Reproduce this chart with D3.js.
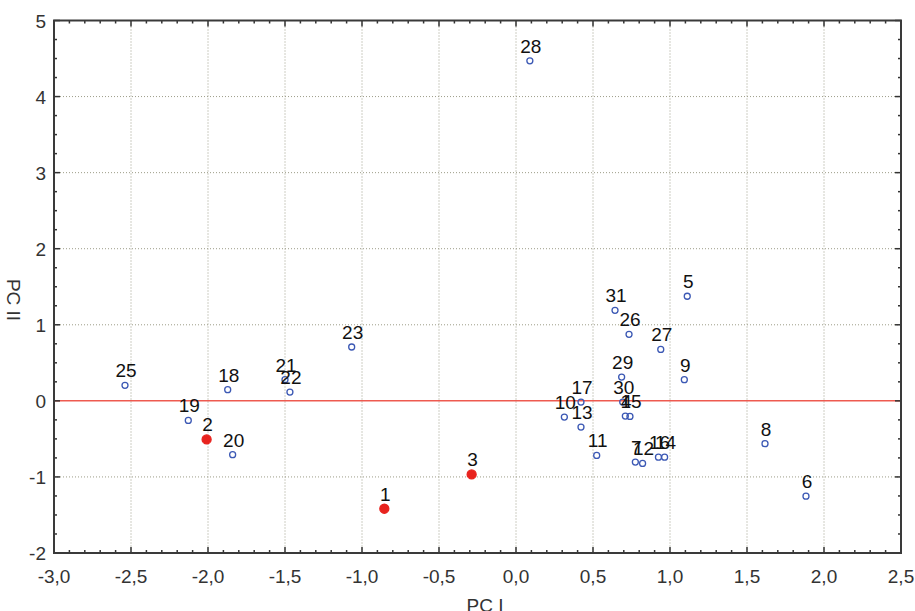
<!DOCTYPE html>
<html>
<head>
<meta charset="utf-8">
<title>PCA scores</title>
<script src="https://cdn.jsdelivr.net/npm/d3@7/dist/d3.min.js"></script>
<style>
  body { margin: 0; background: #fff; }
  svg { display: block; font-family: "Liberation Sans", Arial, sans-serif; }
</style>
</head>
<body>
<div id="chart"></div>
<script>
// point labels and scores
var labels = ["1","2","3","4","5","6","7","8","9","10","11","12","13","14","15","16",
              "17","18","19","20","21","22","23","25","26","27","28","29","30","31"];
var pcI  = [-0.855,-2.009,-0.288,0.71,1.112,1.883,0.775,1.617,1.093,0.314,0.524,0.822,0.422,0.965,0.74,0.925,
            0.422,-1.872,-2.128,-1.84,-1.5,-1.468,-1.067,-2.539,0.734,0.94,0.09,0.686,0.693,0.643];
var pcII = [-1.418,-0.507,-0.967,-0.2,1.375,-1.253,-0.805,-0.563,0.279,-0.213,-0.717,-0.822,-0.345,-0.74,-0.205,-0.74,
            -0.016,0.147,-0.257,-0.708,0.279,0.116,0.708,0.204,0.875,0.676,4.47,0.313,-0.016,1.19];
// highlighted samples (red dots)
var marked = ["1","2","3"];

var xTicks = [-3,-2.5,-2,-1.5,-1,-0.5,0,0.5,1,1.5,2,2.5];
var yTicks = [-2,-1,0,1,2,3,4,5];

var W = 915, H = 611;
var pL = 54, pR = 901, pT = 20.5, pB = 553;

var x = d3.scaleLinear().domain([-3, 2.5]).range([pL, pR]);
var y = d3.scaleLinear().domain([-2, 5]).range([pB, pT]);

var svg = d3.select("#chart").append("svg")
    .attr("width", W)
    .attr("height", H);

var fmt = function(d) { return d3.format(".1f")(d).replace(".", ",").replace("−", "-"); };

// grid
var grid = svg.append("g").attr("stroke", "#9c9c88").attr("stroke-width", 1).attr("stroke-dasharray", "1,2");
grid.selectAll(".gx").data(xTicks.slice(1, -1)).enter().append("line")
    .attr("x1", function(d) { return x(d); }).attr("x2", function(d) { return x(d); })
    .attr("y1", pT).attr("y2", pB);
grid.selectAll(".gy").data(yTicks.filter(function(d) { return d != 0 && d != -2 && d != 5; })).enter().append("line")
    .attr("y1", function(d) { return y(d); }).attr("y2", function(d) { return y(d); })
    .attr("x1", pL).attr("x2", pR);

// zero line
svg.append("line")
    .attr("x1", pL).attr("x2", pR)
    .attr("y1", y(0)).attr("y2", y(0))
    .attr("stroke", "#ee5a50").attr("stroke-width", 1.5);

// inward ticks on all four sides
var xMinor = d3.range(-3, 2.5001, 0.1);
var yMinor = d3.range(-2, 5.0001, 0.25);
var tk = svg.append("g").attr("stroke", "#333").attr("stroke-width", 1.5);
xMinor.forEach(function(v) {
    var major = Math.abs(v * 2 - Math.round(v * 2)) < 1e-6;
    var len = major ? 6 : 3;
    tk.append("line").attr("x1", x(v)).attr("x2", x(v)).attr("y1", pB).attr("y2", pB - len);
    tk.append("line").attr("x1", x(v)).attr("x2", x(v)).attr("y1", pT).attr("y2", pT + len);
});
yMinor.forEach(function(v) {
    var major = Math.abs(v - Math.round(v)) < 1e-6;
    var len = major ? 6 : 3;
    tk.append("line").attr("y1", y(v)).attr("y2", y(v)).attr("x1", pL).attr("x2", pL + len);
    tk.append("line").attr("y1", y(v)).attr("y2", y(v)).attr("x1", pR).attr("x2", pR - len);
});

// frame
svg.append("rect")
    .attr("x", pL).attr("y", pT)
    .attr("width", pR - pL).attr("height", pB - pT)
    .attr("fill", "none").attr("stroke", "#3a3a3a").attr("stroke-width", 2);

// tick labels
svg.selectAll(".xl").data(xTicks).enter().append("text")
    .attr("x", function(d) { return x(d); })
    .attr("y", pB + 30)
    .attr("text-anchor", "middle")
    .attr("font-size", "19px")
    .attr("fill", "#333")
    .text(fmt);
svg.selectAll(".yl").data(yTicks).enter().append("text")
    .attr("x", pL - 8)
    .attr("y", function(d) { return y(d) + 7; })
    .attr("text-anchor", "end")
    .attr("font-size", "19px")
    .attr("fill", "#333")
    .text(function(d) { return d; });

// axis titles
svg.append("text")
    .attr("x", 485).attr("y", 612)
    .attr("text-anchor", "middle")
    .attr("font-size", "19px")
    .attr("fill", "#333")
    .text("PC I");
svg.append("text")
    .attr("transform", "translate(7,300) rotate(90)")
    .attr("text-anchor", "middle")
    .attr("font-size", "19px")
    .attr("fill", "#333")
    .text("PC II");

// points
var pts = labels.map(function(l, i) { return { label: l, px: pcI[i], py: pcII[i], red: marked.indexOf(l) >= 0 }; });

svg.selectAll(".pt").data(pts).enter().append("circle")
    .attr("cx", function(d) { return x(d.px); })
    .attr("cy", function(d) { return y(d.py); })
    .attr("r", function(d) { return d.red ? 4.5 : 3; })
    .attr("fill", function(d) { return d.red ? "#e8231e" : "none"; })
    .attr("stroke", function(d) { return d.red ? "#e8231e" : "#3b58b4"; })
    .attr("stroke-width", 1.3);

svg.selectAll(".lb").data(pts).enter().append("text")
    .attr("x", function(d) { return x(d.px) + 1; })
    .attr("y", function(d) { return y(d.py) - 8; })
    .attr("text-anchor", "middle")
    .attr("font-size", "19px")
    .attr("fill", "#111")
    .text(function(d) { return d.label; });
</script>
</body>
</html>
